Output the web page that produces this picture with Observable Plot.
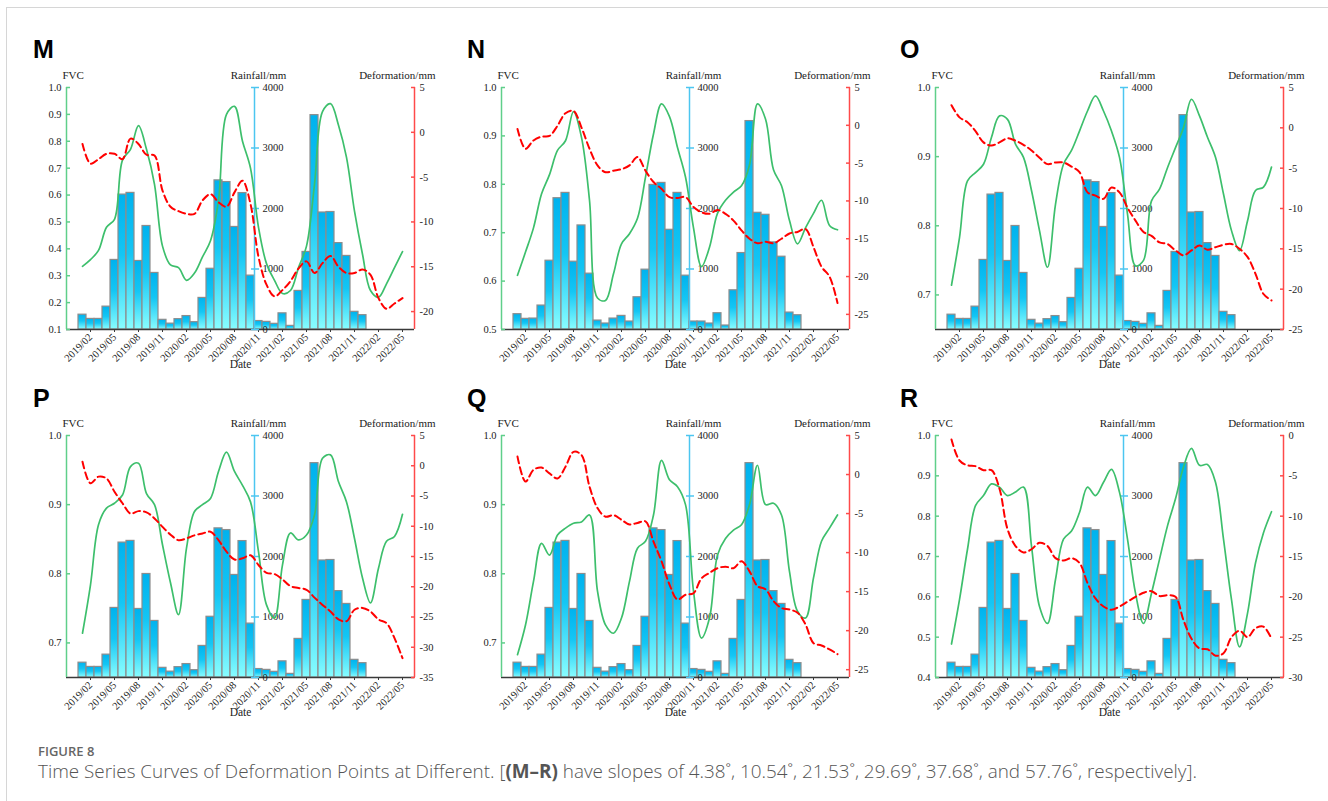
<!DOCTYPE html>
<html>
<head>
<meta charset="utf-8">
<script src="https://cdn.jsdelivr.net/npm/d3@7"></script>
<script src="https://cdn.jsdelivr.net/npm/@observablehq/plot@0.6"></script>
<style>
  html, body { margin: 0; padding: 0; background: #fff; }
  body { width: 1328px; height: 801px; position: relative; overflow: hidden; }
  #frame { position: absolute; left: 6px; top: 7px; width: 1330px; height: 800px; border-left: 1px solid #d6d6d6; border-top: 1px solid #d6d6d6; }
  .panel { position: absolute; width: 440px; height: 320px; }
  .panel svg { position: absolute; left: 0; top: 0; overflow: visible; }
  .letter { position: absolute; font: bold 25px/25px "Liberation Sans", Arial, sans-serif; color: #000; }
  #figlabel { position: absolute; left: 38px; top: 745px; font: 600 13px/13px "Open Sans", "Noto Sans", sans-serif; color: #666; }
  #caption { position: absolute; left: 38px; top: 762px; font: 300 16px/18px "Open Sans", "Noto Sans", sans-serif; color: #555; white-space: nowrap; }
  #caption b { font-weight: 700; }
</style>
</head>
<body>
<div id="frame"></div>
<svg width="0" height="0" style="position:absolute;left:0;top:0">
  <defs>
    <linearGradient id="barGrad" x1="0" y1="0" x2="0" y2="1">
      <stop offset="0" stop-color="#00b2ee"/>
      <stop offset="0.45" stop-color="#14c6f4"/>
      <stop offset="1" stop-color="#88fdff"/>
    </linearGradient>
  </defs>
</svg>
<div id="charts"></div>
<div id="figlabel">FIGURE 8</div>
<div id="caption">Time Series Curves of Deformation Points at Different. [<b>(M–R)</b> have slopes of 4.38˚, 10.54˚, 21.53˚, 29.69˚, 37.68˚, and 57.76˚, respectively].</div>
<script>
// ---------- data ----------
const firstYear = 2019; // month index 0 = 2019/01
const tickLabels = ["2019/02","2019/05","2019/08","2019/11","2020/02","2020/05","2020/08","2020/11","2021/02","2021/05","2021/08","2021/11","2022/02","2022/05"];
const rainTicks = [0, 1000, 2000, 3000, 4000];

// monthly rainfall 2019/01 .. 2021/12 (mm)
const rainfall = [245,175,175,378,1150,2230,2258,1133,1711,935,160,97,171,222,121,522,1004,2465,2437,1695,2255,891,140,126,94,267,60,638,1282,3543,1934,1942,1428,1216,292,237];
const rainfallN = [253,176,181,396,1137,2170,2258,1121,1720,923,148,99,181,225,132,533,989,2390,2423,1648,2258,890,132,132,99,269,66,648,1264,3445,1929,1896,1440,1203,280,236];

// monthly FVC and deformation 2019/01 .. 2022/05
const fvcM = [0.335,0.36,0.394,0.48,0.51,0.73,0.77,0.858,0.77,0.64,0.41,0.34,0.33,0.283,0.31,0.37,0.43,0.58,0.90,0.93,0.80,0.70,0.48,0.345,0.283,0.234,0.245,0.33,0.41,0.64,0.91,0.94,0.86,0.74,0.54,0.38,0.245,0.22,0.27,0.33,0.39];
const defM = [-1.3,-3.5,-3.0,-2.4,-2.4,-3.0,-0.7,-1.3,-2.5,-2.6,-6.5,-8.3,-8.8,-9.1,-9.1,-7.6,-6.9,-7.8,-8.3,-6.7,-5.4,-8.0,-13.9,-17.0,-18.3,-17.6,-16.6,-15.2,-14.4,-15.7,-14.6,-13.8,-15.0,-15.7,-15.7,-15.3,-15.9,-18.5,-19.7,-19.1,-18.5];
const fvcN = [0.612,0.66,0.71,0.78,0.82,0.87,0.89,0.95,0.897,0.767,0.565,0.56,0.615,0.677,0.698,0.73,0.815,0.904,0.966,0.94,0.876,0.815,0.71,0.63,0.67,0.74,0.767,0.784,0.797,0.84,0.966,0.935,0.83,0.797,0.725,0.677,0.71,0.74,0.767,0.715,0.706];
const defN = [-0.5,-3.1,-2.0,-1.5,-1.4,-0.05,1.6,1.9,-0.3,-3.1,-5.3,-6.2,-6.0,-5.8,-5.3,-4.2,-6.0,-7.5,-8.4,-9.5,-9.6,-9.5,-10.8,-11.5,-11.7,-11.2,-11.7,-12.6,-13.9,-15.0,-15.6,-15.4,-15.6,-15.0,-14.3,-14.1,-13.7,-16.1,-18.7,-20.0,-23.5];
const fvcO = [0.714,0.783,0.865,0.877,0.889,0.928,0.959,0.954,0.918,0.899,0.851,0.793,0.74,0.831,0.889,0.909,0.937,0.966,0.988,0.966,0.937,0.899,0.817,0.742,0.75,0.836,0.853,0.884,0.913,0.942,0.983,0.959,0.928,0.899,0.846,0.793,0.764,0.807,0.851,0.856,0.885];
const defO = [2.8,1.3,0.7,-0.4,-1.8,-2.2,-1.8,-1.3,-1.6,-2.1,-2.8,-3.7,-4.5,-4.3,-4.3,-4.8,-5.5,-8.0,-8.4,-8.8,-7.4,-8.0,-9.9,-11.5,-12.9,-13.4,-14.2,-14.4,-15.2,-15.8,-15.2,-14.6,-15.1,-14.8,-14.5,-14.4,-15.0,-16.0,-18.1,-20.6,-21.4];
const fvcP = [0.714,0.784,0.871,0.895,0.902,0.914,0.955,0.96,0.916,0.9,0.842,0.787,0.741,0.837,0.89,0.9,0.909,0.948,0.976,0.948,0.928,0.904,0.832,0.755,0.736,0.813,0.859,0.849,0.856,0.885,0.967,0.972,0.933,0.904,0.851,0.794,0.758,0.808,0.847,0.854,0.886];
const defP = [0.66,-2.9,-1.8,-2.1,-4.3,-6.2,-7.9,-7.5,-7.7,-8.7,-10.1,-11.4,-12.3,-12.0,-11.5,-11.2,-10.9,-12.3,-14.2,-15.5,-15.3,-14.8,-16.4,-17.7,-17.9,-18.8,-19.9,-20.2,-20.5,-21.8,-23.0,-24.1,-25.4,-25.7,-23.8,-23.5,-24.1,-25.4,-26.0,-28.5,-31.8];
const fvcQ = [0.683,0.726,0.789,0.844,0.827,0.856,0.866,0.873,0.875,0.885,0.775,0.726,0.714,0.736,0.789,0.837,0.847,0.885,0.964,0.936,0.926,0.9,0.775,0.707,0.736,0.827,0.851,0.863,0.871,0.9,0.957,0.9,0.902,0.885,0.803,0.746,0.736,0.794,0.847,0.866,0.885];
const defQ = [2.3,-0.9,0.6,0.9,0.15,-0.5,1.0,2.9,2.5,-1.55,-4.3,-5.4,-5.2,-5.8,-6.4,-6.2,-6.0,-8.6,-11.1,-14.1,-16.0,-15.4,-15.2,-13.3,-12.6,-12.0,-11.8,-12.0,-11.1,-12.4,-14.3,-14.7,-16.2,-17.1,-17.3,-17.7,-19.2,-21.6,-21.9,-22.4,-23.0];
const fvcR = [0.483,0.593,0.718,0.826,0.851,0.88,0.872,0.851,0.86,0.872,0.726,0.576,0.534,0.643,0.743,0.763,0.809,0.872,0.851,0.884,0.916,0.859,0.743,0.609,0.534,0.609,0.693,0.776,0.843,0.922,0.968,0.926,0.928,0.884,0.743,0.593,0.476,0.559,0.684,0.759,0.811];
const defR = [-0.5,-3.1,-3.7,-3.8,-4.3,-4.3,-6.6,-11.6,-13.7,-14.5,-14.1,-13.3,-13.7,-15.2,-15.5,-15.2,-15.8,-18.3,-20.2,-21.2,-21.6,-21.2,-20.6,-20.0,-19.5,-19.3,-19.9,-19.8,-20.0,-22.9,-25.2,-26.4,-26.5,-27.3,-27.0,-25.0,-24.2,-25.0,-23.9,-23.7,-25.2];

// per-panel axis settings
const panels = [
  {id: "M", rain: rainfall,  fvc: fvcM, def: defM, fvcDomain: [0.1, 1.0],  fvcTicks: [0.1,0.2,0.3,0.4,0.5,0.6,0.7,0.8,0.9,1.0], defDomain: [-22, 5], defTicks: [5,0,-5,-10,-15,-20]},
  {id: "N", rain: rainfallN, fvc: fvcN, def: defN, fvcDomain: [0.5, 1.0],  fvcTicks: [0.5,0.6,0.7,0.8,0.9,1.0], defDomain: [-27, 5], defTicks: [5,0,-5,-10,-15,-20,-25]},
  {id: "O", rain: rainfall,  fvc: fvcO, def: defO, fvcDomain: [0.65, 1.0], fvcTicks: [0.7,0.8,0.9,1.0], defDomain: [-25, 5], defTicks: [5,0,-5,-10,-15,-20,-25]},
  {id: "P", rain: rainfall,  fvc: fvcP, def: defP, fvcDomain: [0.65, 1.0], fvcTicks: [0.7,0.8,0.9,1.0], defDomain: [-35, 5], defTicks: [5,0,-5,-10,-15,-20,-25,-30,-35]},
  {id: "Q", rain: rainfall,  fvc: fvcQ, def: defQ, fvcDomain: [0.65, 1.0], fvcTicks: [0.7,0.8,0.9,1.0], defDomain: [-26, 5], defTicks: [5,0,-5,-10,-15,-20,-25]},
  {id: "R", rain: rainfall,  fvc: fvcR, def: defR, fvcDomain: [0.4, 1.0],  fvcTicks: [0.4,0.5,0.6,0.7,0.8,0.9,1.0], defDomain: [-30, 0], defTicks: [0,-5,-10,-15,-20,-25,-30]}
];

// ---------- layout ----------
const W = 440, H = 320, ML = 50, MR = 42, MT = 30, MB = 48;
const colX = [16, 451, 885];
const rowY = [57, 405];
const letterX = [33, 467, 900];
const letterTop = [37, 386];
const xDomain = [-2, 41.5];
const rainAxisAt = 21.5;          // month position of the rainfall axis
const plotW = W - ML - MR;
const rainDx = (rainAxisAt - xDomain[1]) / (xDomain[1] - xDomain[0]) * plotW;

const green = "#3dbf6c", greenAxis = "#5fcf8a", blueAxis = "#4cc6f0", red = "#ff0000", redAxis = "#ff4a4a";
const font = '"Liberation Serif", "Times New Roman", serif';
const titleDy = -16;

const tickIndex = tickLabels.map(s => { const [y, m] = s.split("/").map(Number); return (y - firstYear) * 12 + m - 1; });
const fmtMonth = d => tickLabels[tickIndex.indexOf(d)];

function layer(yOpts, marks) {
  return Plot.plot({
    width: W, height: H, marginLeft: ML, marginRight: MR, marginTop: MT, marginBottom: MB,
    x: {domain: xDomain, axis: null},
    y: {...yOpts, axis: null},
    style: {fontFamily: font, fontSize: "10.5px", color: "#222", background: "transparent", overflow: "visible"},
    marks
  });
}

const charts = document.getElementById("charts");
panels.forEach((p, i) => {
  const col = i % 3, row = Math.floor(i / 3);
  const div = document.createElement("div");
  div.className = "panel";
  div.style.left = colX[col] + "px";
  div.style.top = rowY[row] + "px";
  charts.appendChild(div);

  const letter = document.createElement("div");
  letter.className = "letter";
  letter.textContent = p.id;
  letter.style.left = letterX[col] + "px";
  letter.style.top = letterTop[row] + "px";
  charts.appendChild(letter);

  const rainData = p.rain.map((v, m) => ({m, v}));
  const fvcData = p.fvc.map((v, m) => ({m, v}));
  const defData = p.def.map((v, m) => ({m, v}));

  const rainLayer = layer({domain: [0, 4000]}, [
    Plot.rectY(rainData, {x1: d => d.m - 0.5, x2: d => d.m + 0.5, y: "v", fill: "url(#barGrad)", stroke: "#8d8d8d", strokeWidth: 1.2}),
    Plot.ruleY([0], {stroke: "#3a3a3a", strokeWidth: 1.5}),
    Plot.axisX(tickIndex, {anchor: "bottom", tickFormat: fmtMonth, tickRotate: -45, tickSize: 3, tickPadding: 3, stroke: "#3a3a3a", fill: "#222", label: null}),
    Plot.text(["Date"], {frameAnchor: "bottom", dy: 38, fontSize: 11.5, fill: "#222"}),
    Plot.ruleX([rainAxisAt], {stroke: blueAxis, strokeWidth: 1.5}),
    Plot.axisY(rainTicks, {anchor: "right", dx: rainDx, tickSize: 4, tickPadding: 4, stroke: blueAxis, strokeWidth: 1.5, fill: "#222", tickFormat: d => String(d), label: null}),
    Plot.axisY(rainTicks, {anchor: "right", dx: rainDx, tickSize: -4, stroke: blueAxis, strokeWidth: 1.5, fill: "none", label: null}),
    Plot.text(["Rainfall/mm"], {x: [rainAxisAt], frameAnchor: "top", dy: titleDy, dx: 4, fontSize: 11, fill: "#222"})
  ]);

  const fvcLayer = layer({domain: p.fvcDomain}, [
    Plot.ruleX([xDomain[0]], {stroke: greenAxis, strokeWidth: 1.5}),
    Plot.axisY(p.fvcTicks, {anchor: "left", tickSize: -4, tickPadding: 9, stroke: greenAxis, strokeWidth: 1.5, fill: "#222", tickFormat: d => d.toFixed(1), label: null}),
    Plot.line(fvcData, {x: "m", y: "v", stroke: green, strokeWidth: 1.7, curve: "catmull-rom"}),
    Plot.text(["FVC"], {frameAnchor: "top-left", dx: -4, dy: titleDy, textAnchor: "start", fontSize: 11, fill: "#222"})
  ]);

  const defLayer = layer({domain: p.defDomain}, [
    Plot.ruleX([xDomain[1]], {stroke: redAxis, strokeWidth: 1.5}),
    Plot.axisY(p.defTicks, {anchor: "right", tickSize: -4, tickPadding: 9, stroke: redAxis, strokeWidth: 1.5, fill: "#222", tickFormat: d => String(d), label: null}),
    Plot.line(defData, {x: "m", y: "v", stroke: red, strokeWidth: 2, strokeDasharray: "7,4", curve: "catmull-rom"}),
    Plot.text(["Deformation/mm"], {frameAnchor: "top-right", dx: 21, dy: titleDy, textAnchor: "end", fontSize: 11, fill: "#222"})
  ]);

  div.appendChild(rainLayer);
  div.appendChild(fvcLayer);
  div.appendChild(defLayer);
});

// fit caption to the reference line length
const cap = document.getElementById("caption");
const cw = cap.getBoundingClientRect().width;
cap.style.fontSize = (16 * 1159 / cw).toFixed(2) + "px";
</script>
</body>
</html>
